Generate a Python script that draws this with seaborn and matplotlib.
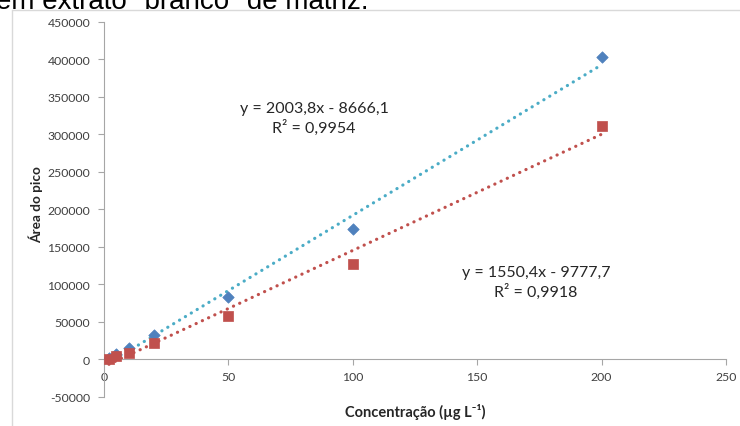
import matplotlib
matplotlib.use("Agg")
import matplotlib.pyplot as plt
from matplotlib.lines import Line2D
import seaborn as sns

# calibration data
concentracao = [2, 5, 10, 20, 50, 100, 200]
area_serie1 = [2000, 7000, 15000, 32000, 83000, 174000, 403000]
area_serie2 = [1000, 4000, 9000, 22000, 58000, 127000, 311000]

eq_serie1 = "y = 2003,8x - 8666,1\nR² = 0,9954"
eq_serie2 = "y = 1550,4x - 9777,7\nR² = 0,9918"

x_ticks = [0, 50, 100, 150, 200, 250]
y_ticks = [-50000, 0, 50000, 100000, 150000, 200000, 250000, 300000, 350000, 400000, 450000]

sns.set_style("white")
plt.rcParams['font.family'] = ['Lato', 'DejaVu Sans']

W, H = 740, 427
fig = plt.figure(figsize=(W / 100, H / 100), dpi=100)
ax = fig.add_axes([104 / W, (H - 398) / H, (726 - 104) / W, (398 - 22.5) / H])

# trend lines (linear regression, no CI)
sns.regplot(x=concentracao, y=area_serie1, ax=ax, ci=None, scatter=False,
            line_kws=dict(color='#4BACC6', lw=2.3, linestyle=(0, (0.05, 2.1)),
                          dash_capstyle='round', zorder=2))
sns.regplot(x=concentracao, y=area_serie2, ax=ax, ci=None, scatter=False,
            line_kws=dict(color='#C0504D', lw=2.3, linestyle=(0, (0.05, 2.1)),
                          dash_capstyle='round', zorder=2))

sns.scatterplot(x=concentracao, y=area_serie1, ax=ax, marker='D', s=34,
                color='#4F81BD', edgecolor='#4F81BD', linewidth=0.5, zorder=3)
sns.scatterplot(x=concentracao, y=area_serie2, ax=ax, marker='s', s=52,
                color='#C0504D', edgecolor='#C0504D', linewidth=0.5, zorder=3)

ax.set_xlim(0, 250)
ax.set_ylim(-50000, 450000)
ax.set_xticks(x_ticks)
ax.set_yticks(y_ticks)
ax.set_xticklabels([str(t) for t in x_ticks])
ax.set_yticklabels([str(t) for t in y_ticks])

for s in ['top', 'right']:
    ax.spines[s].set_visible(False)
ax.spines['bottom'].set_position(('data', 0))
for s in ['left', 'bottom']:
    ax.spines[s].set_color('#A6A6A6')
    ax.spines[s].set_linewidth(0.8)
ax.tick_params(axis='both', direction='out', length=4, width=0.8, color='#A6A6A6',
               labelsize=8.8, labelcolor='#404040', bottom=True, left=True)
ax.tick_params(axis='x', pad=4)
ax.tick_params(axis='y', pad=6)

ax.set_xlabel("Concentração (µg L⁻¹)", fontsize=10.5, fontweight='bold', color='#262626')
ax.set_ylabel("Área do pico", fontsize=9.8, fontweight='bold', color='#262626')
ax.xaxis.set_label_coords(415 / W, 1 - 412 / H, transform=fig.transFigure)
ax.xaxis.label.set_va('center')
ax.yaxis.set_label_coords(36 / W, 1 - 205 / H, transform=fig.transFigure)
ax.yaxis.label.set_va('center')

fig.text(314 / W, 1 - 119 / H, eq_serie1, ha='center', va='center', fontsize=11.5,
         color='#262626', linespacing=1.35)
fig.text(536 / W, 1 - 283 / H, eq_serie2, ha='center', va='center', fontsize=11.5,
         color='#262626', linespacing=1.35)

# chart frame (light border top & left)
fig.add_artist(Line2D([12 / W, 12 / W], [0, 1 - 11 / H], transform=fig.transFigure,
                      color='#D9D9D9', lw=1))
fig.add_artist(Line2D([12 / W, 1], [1 - 11 / H, 1 - 11 / H], transform=fig.transFigure,
                      color='#D9D9D9', lw=1))

# document text cut off above the chart (cropped in the source picture too)
fig.text(-4 / W, 1 - 9 / H, 'em extrato "branco" de matriz.', ha='left', va='baseline',
         fontsize=20, family=['Liberation Sans', 'DejaVu Sans'], color='black')

fig.savefig("out.png", dpi=100, facecolor='white')
